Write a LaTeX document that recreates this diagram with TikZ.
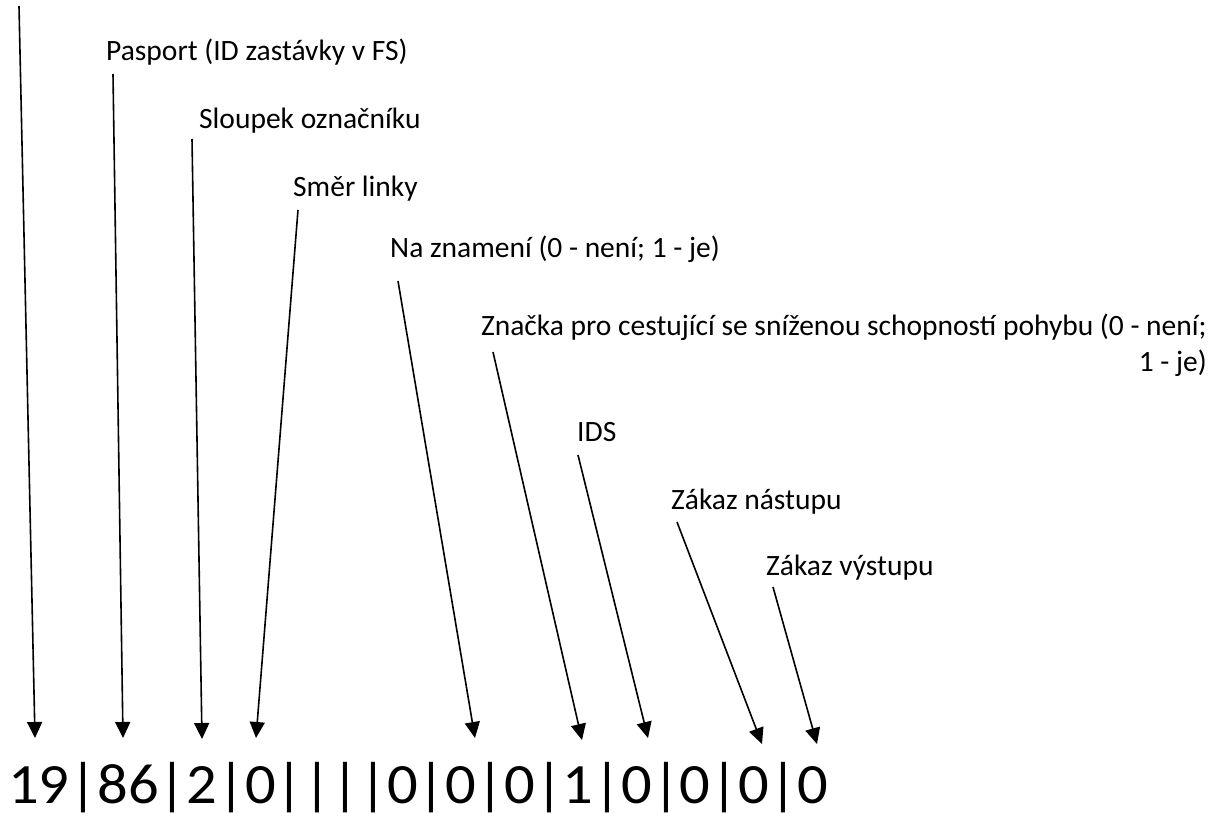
\documentclass[tikz,border=0pt]{standalone}
\usepackage{fontspec}
\setmainfont{Carlito}
\usetikzlibrary{arrows.meta}
\begin{document}
\begin{tikzpicture}[x=1pt,y=-1pt,
  lbl/.style={anchor=base west, inner sep=0pt, font=\fontsize{29.5}{35}\selectfont},
  lblr/.style={anchor=base east, inner sep=0pt, font=\fontsize{29.5}{35}\selectfont},
  ptr/.style={line width=1.6pt, -{Triangle[length=16pt,width=15pt]}}]
\useasboundingbox (0,0) rectangle (1213,816);

% labels
\node[lbl] (pasport) at (106,61) {Pasport (ID zastávky v FS)};
\node[lbl] (sloupek) at (199,128) {Sloupek označníku};
\node[lbl] (smer) at (293,196) {Směr linky};
\node[lbl] (znameni) at (390,257) {Na znamení (0 - není; 1 - je)};
\node[lblr] (znacka) at (1207,335) {Značka pro cestující se sníženou schopností pohybu (0 - není;};
\node[lblr] (znacka2) at (1207,371) {1 - je)};
\node[lbl] (ids) at (577,441) {IDS};
\node[lbl] (nastup) at (671,509) {Zákaz nástupu};
\node[lbl] (vystup) at (766,575) {Zákaz výstupu};

% code
\node[anchor=base west, inner sep=0pt] (code) at (8,803)
  {\scalebox{1.062}[1]{\fontsize{57}{68}\selectfont 19|86|2|0||||0|0|0|1|0|0|0|0}};

% arrow start and end points
\coordinate (s1) at (19,6);    \coordinate (t1) at (35,738);
\coordinate (s2) at (113,74);  \coordinate (t2) at (123,738);
\coordinate (s3) at (192,139); \coordinate (t3) at (202,739);
\coordinate (s4) at (298,210); \coordinate (t4) at (256,738);
\coordinate (s5) at (398,281); \coordinate (t5) at (475,738);
\coordinate (s6) at (493,352); \coordinate (t6) at (582,740);
\coordinate (s7) at (578,455); \coordinate (t7) at (648,738);
\coordinate (s8) at (677,522); \coordinate (t8) at (762,744);
\coordinate (s9) at (773,587); \coordinate (t9) at (817,744);

\foreach \i in {1,...,9} {\draw[ptr] (s\i) -- (t\i);}
\end{tikzpicture}
\end{document}
